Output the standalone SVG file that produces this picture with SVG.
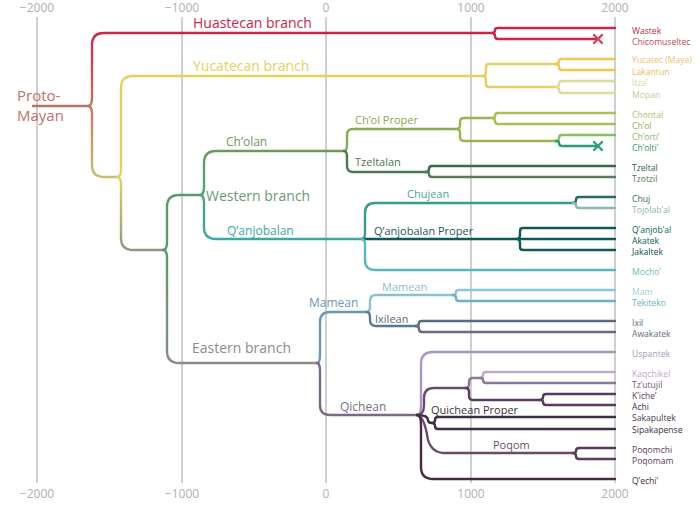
<svg xmlns="http://www.w3.org/2000/svg" width="700" height="507" viewBox="0 0 700 507">
<style>
text{font-family:"Open Sans","Liberation Sans",sans-serif}
.ax{font-size:12px;fill:#b0b0b0;text-anchor:middle}
.g{stroke:#cfcfcf;stroke-width:2}
path{fill:none;stroke-width:2.4;stroke-linecap:round}
.lf{font-size:8.6px}
.b{font-size:14px}
.s{font-size:11px}
.m{font-size:12px}
</style>
<defs>
<linearGradient id="gp" x1="0" y1="0" x2="0" y2="1"><stop offset="0" stop-color="#c8264a"/><stop offset="1" stop-color="#c8c070"/></linearGradient>
<linearGradient id="gy" x1="0" y1="0" x2="0" y2="1"><stop offset="0" stop-color="#e6d060"/><stop offset="1" stop-color="#8a9a80"/></linearGradient>
<linearGradient id="gw" x1="0" y1="0" x2="0" y2="1"><stop offset="0" stop-color="#5a9a6a"/><stop offset="1" stop-color="#8a8a90"/></linearGradient>
<linearGradient id="gwb" x1="0" y1="0" x2="0" y2="1"><stop offset="0" stop-color="#6a9a5a"/><stop offset="1" stop-color="#3aa8a0"/></linearGradient>
</defs>
<g id="axis">
<line class="g" x1="37" y1="17" x2="37" y2="483"/><line class="g" x1="182" y1="17" x2="182" y2="483"/><line class="g" x1="326" y1="17" x2="326" y2="483"/><line class="g" x1="471" y1="17" x2="471" y2="483"/><line class="g" x1="615" y1="17" x2="615" y2="483"/>
<text class="ax" x="37" y="12">−2000</text><text class="ax" x="182" y="12">−1000</text><text class="ax" x="326" y="12">0</text><text class="ax" x="471" y="12">1000</text><text class="ax" x="615" y="12">2000</text>
<text class="ax" x="37" y="498">−2000</text><text class="ax" x="182" y="498">−1000</text><text class="ax" x="326" y="498">0</text><text class="ax" x="471" y="498">1000</text><text class="ax" x="615" y="498">2000</text>
</g>
<g id="connectors">
<path stroke="#c0706a" d="M33,106 L88,106"/>
<path stroke="url(#gp)" d="M88,106 Q92,106 92,98 L92,45 Q92,33 104,33 L492,33 M88,106 Q92,106 92,114 L92,165 Q92,177 104,177 L117,177"/>
<path stroke="#c8264a" d="M492,33 Q495,33 495,30 Q495,28 498,28 L615,28 M492,33 Q495,33 495,36 Q495,39 498,39 L598,39"/>
<path stroke="#d6405a" stroke-width="2" d="M594,35 L602,43 M602,35 L594,43"/>
<path stroke="url(#gy)" d="M117,177 Q121,177 121,185 L121,238 Q121,250 133,250 L163,250"/>
<path stroke="#e6d060" d="M117,177 Q121,177 121,169 L121,88 Q121,76 133,76 L483,76 Q486,76 486,72 L486,67 Q486,64 489,64 L556,64 M483,76 Q486,76 486,80 L486,84 Q486,87 489,87 L556,87"/>
<path stroke="#efc850" d="M556,64 Q559,64 559,61 Q559,59 562,59 L615,59 M556,64 Q559,64 559,67 Q559,70 562,70 L615,70"/>
<path stroke="#dadc98" d="M556,87 Q559,87 559,84 Q559,81 562,81 L615,81 M556,87 Q559,87 559,90 Q559,93 562,93 L615,93"/>
<path stroke="url(#gw)" d="M163,250 Q167,250 167,258 L167,351 Q167,363 179,363 L317,363"/>
<path stroke="#5a9a6a" d="M163,250 Q167,250 167,242 L167,207 Q167,195 179,195 L200,195"/>
<path stroke="url(#gwb)" d="M200,195 Q204,195 204,187 L204,163 Q204,151 216,151 L344,151 M200,195 Q204,195 204,203 L204,227 Q204,239 216,239 L362,239"/>
<path stroke="#8aaa52" d="M344,151 Q347,151 347,145 L347,135 Q347,129 353,129 L457,129"/>
<path stroke="#4a7a50" d="M344,151 Q347,151 347,157 L347,166 Q347,172 353,172 L426,172"/>
<path stroke="#9ab450" d="M457,129 Q460,129 460,125 L460,122 Q460,118 464,118 L492,118 M457,129 Q460,129 460,133 L460,137 Q460,141 464,141 L556,141"/>
<path stroke="#b0bc58" d="M492,118 Q495,118 495,116 Q495,113 498,113 L615,113 M492,118 Q495,118 495,121 Q495,124 498,124 L615,124"/>
<path stroke="#88c060" d="M556,141 Q559,141 559,138 Q559,135 562,135 L615,135"/>
<path stroke="#2aa070" d="M556,141 Q559,141 559,143 Q559,146 562,146 L598,146"/>
<path stroke="#2aa070" stroke-width="2" d="M594,142 L602,150 M602,142 L594,150"/>
<path stroke="#3a6a48" d="M426,172 Q429,172 429,169 Q429,166 432,166 L615,166"/>
<path stroke="#5a7a60" d="M426,172 Q429,172 429,174 Q429,177 432,177 L615,177"/>
<path stroke="#3a9a8a" d="M362,239 Q365,239 365,233 L365,213 Q365,203 375,203 L573,203"/>
<path stroke="#0f5a58" d="M362,239 L517,239"/>
<path stroke="#5ab8b8" d="M362,239 Q365,239 365,245 L365,260 Q365,270 375,270 L615,270"/>
<path stroke="#2a6a60" d="M573,203 Q576,203 576,200 Q576,197 579,197 L615,197"/>
<path stroke="#8ab8b0" d="M573,203 Q576,203 576,205 Q576,208 579,208 L615,208"/>
<path stroke="#0f5a58" d="M517,239 Q520,239 520,235 L520,231 Q520,228 523,228 L615,228 M517,239 L615,239 M517,239 Q520,239 520,243 L520,247 Q520,250 523,250 L615,250"/>
<path stroke="#6a98b8" d="M317,363 Q320,363 320,355 L320,322 Q320,312 330,312 L367,312"/>
<path stroke="#7a6a88" d="M317,363 Q320,363 320,371 L320,405 Q320,415 330,415 L417,415"/>
<path stroke="#8ac0d0" d="M367,312 Q370,312 370,306 L370,301 Q370,295 376,295 L453,295"/>
<path stroke="#5a7a90" d="M367,312 Q370,312 370,318 L370,320 Q370,326 376,326 L416,326"/>
<path stroke="#8ac8d8" d="M453,295 Q456,295 456,292 Q456,290 459,290 L615,290"/>
<path stroke="#6ab0c8" d="M453,295 Q456,295 456,298 Q456,301 459,301 L615,301"/>
<path stroke="#5a6a80" d="M416,326 Q419,326 419,323 Q419,321 422,321 L615,321"/>
<path stroke="#6a6a80" d="M416,326 Q419,326 419,329 Q419,332 422,332 L615,332"/>
<path stroke="#a898c0" d="M417,415 Q421,415 421,405 L421,364 Q421,352 433,352 L615,352"/>
<path stroke="#6a4a70" d="M417,415 Q424,415 424,405 L424,398 Q424,388 434,388 L466,388"/>
<path stroke="#3a3040" d="M417,415 Q428,415 428,420 Q428,423 432,423"/>
<path stroke="#6a4a68" d="M417,415 Q424,415 428,440 Q432,453 445,453 L573,453"/>
<path stroke="#4a2a40" d="M417,415 Q421,415 421,425 L421,467 Q421,479 433,479 L615,479"/>
<path stroke="#8a7898" d="M466,388 Q469,388 469,384 L469,382 Q469,378 473,378 L480,378"/>
<path stroke="#5a3a60" d="M466,388 Q469,388 469,392 L469,396 Q469,400 473,400 L540,400"/>
<path stroke="#c0a8c8" d="M480,378 Q483,378 483,375 Q483,372 486,372 L615,372"/>
<path stroke="#8a7898" d="M480,378 Q483,378 483,380 Q483,383 486,383 L615,383"/>
<path stroke="#5a3a60" d="M540,400 Q543,400 543,397 Q543,394 546,394 L615,394 M540,400 Q543,400 543,402 Q543,405 546,405 L615,405"/>
<path stroke="#3a3040" d="M432,423 Q435,423 435,420 Q435,417 438,417 L615,417 M432,423 Q435,423 435,426 Q435,429 438,429 L615,429"/>
<path stroke="#5a3a58" d="M573,453 Q576,453 576,451 Q576,448 579,448 L615,448 M573,453 Q576,453 576,456 Q576,459 579,459 L615,459"/>
</g>
<g id="labels">
<text x="17" y="101" font-size="15" fill="#c0706a">Proto-</text>
<text x="17" y="121" font-size="15" fill="#c0706a">Mayan</text>
<text class="b" x="193" y="28" fill="#c8264a">Huastecan branch</text>
<text class="b" x="193" y="71" fill="#e6d060">Yucatecan branch</text>
<text class="m" x="226" y="146" fill="#6a9a5a">Ch’olan</text>
<text class="b" x="206" y="201" fill="#6a9a78">Western branch</text>
<text class="m" x="227" y="235" fill="#3aa8a0">Q’anjobalan</text>
<text class="s" x="355" y="124" fill="#8aa850">Ch’ol Proper</text>
<text class="s" x="355" y="166" fill="#4a7a50">Tzeltalan</text>
<text class="s" x="407" y="198" fill="#4aa898">Chujean</text>
<text class="s" x="374" y="235" fill="#1a5a58">Q’anjobalan Proper</text>
<text class="m" x="309" y="307" fill="#6a98b8">Mamean</text>
<text class="s" x="382" y="291" fill="#8ac0d0">Mamean</text>
<text class="s" x="375" y="323" fill="#5a6a80">Ixilean</text>
<text class="b" x="192" y="353" fill="#8a8a90">Eastern branch</text>
<text class="m" x="340" y="411" fill="#7a7080">Qichean</text>
<text class="s" x="431" y="414" fill="#3a3040">Quichean Proper</text>
<text class="s" x="493" y="449" fill="#6a4a68">Poqom</text>
</g>
<g id="leaves" class="lf">
<text x="632" y="34" fill="#b0304a">Wastek</text>
<text x="632" y="45" fill="#c04a5a">Chicomuseltec</text>
<text x="632" y="63" fill="#efc070">Yucatec (Maya)</text>
<text x="632" y="75" fill="#e6c050">Lakantun</text>
<text x="632" y="86" fill="#d8d8a0">Itza’</text>
<text x="632" y="98" fill="#c8c8a0">Mopan</text>
<text x="632" y="118" fill="#b8c070">Chontal</text>
<text x="632" y="129" fill="#9aaa50">Ch’ol</text>
<text x="632" y="140" fill="#8ab860">Ch’orti’</text>
<text x="632" y="151" fill="#2a9a6a">Ch’olti’</text>
<text x="632" y="171" fill="#3a5a48">Tzeltal</text>
<text x="632" y="182" fill="#5a7a60">Tzotzil</text>
<text x="632" y="202" fill="#2a6a60">Chuj</text>
<text x="632" y="213" fill="#8ab8b0">Tojolab’al</text>
<text x="632" y="233" fill="#0f5a58">Q’anjob’al</text>
<text x="632" y="244" fill="#0f5a58">Akatek</text>
<text x="632" y="255" fill="#0f4a48">Jakaltek</text>
<text x="632" y="275" fill="#6ab8b8">Mocho’</text>
<text x="632" y="295" fill="#9ad0e0">Mam</text>
<text x="632" y="306" fill="#6ab0c8">Tekiteko</text>
<text x="632" y="326" fill="#5a6a80">Ixil</text>
<text x="632" y="337" fill="#6a6a80">Awakatek</text>
<text x="632" y="357" fill="#a898c0">Uspantek</text>
<text x="632" y="377" fill="#c0a8c8">Kaqchikel</text>
<text x="632" y="388" fill="#6a5878">Tz’utujil</text>
<text x="632" y="399" fill="#5a3a60">K’iche’</text>
<text x="632" y="410" fill="#4a2a50">Achi</text>
<text x="632" y="421" fill="#4a3a50">Sakapultek</text>
<text x="632" y="433" fill="#3a3040">Sipakapense</text>
<text x="632" y="453" fill="#5a3a58">Poqomchi</text>
<text x="632" y="464" fill="#5a3a58">Poqomam</text>
<text x="632" y="484" fill="#4a2a40">Q’echi’</text>
</g>
</svg>
